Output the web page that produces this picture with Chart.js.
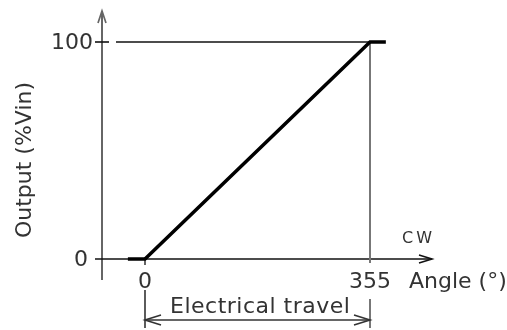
<!DOCTYPE html>
<html>
<head>
<meta charset="utf-8">
<script src="https://cdn.jsdelivr.net/npm/chart.js@4"></script>
<style>
  html, body { margin: 0; padding: 0; background: #fff; }
  #wrap { width: 507px; height: 330px; }
</style>
</head>
<body>
<div id="wrap"><canvas id="grafico" width="507" height="330"></canvas></div>
<script>
// dados da curva (angulo em graus, saida em %Vin)
const angle = [-27, 0, 355, 380];
const output = [0, 0, 100, 100];
const xTicks = [0, 355];
const yTicks = [0, 100];
const travelStart = 0;
const travelEnd = 355;

const FONT = '"DejaVu Sans", sans-serif';
const TXT = '#333';

function arrow(ctx, x, y, dx, dy, len, half) {
  // seta aberta (duas linhas)
  const nx = -dy, ny = dx;
  ctx.beginPath();
  ctx.moveTo(x - dx * len + nx * half, y - dy * len + ny * half);
  ctx.lineTo(x, y);
  ctx.lineTo(x - dx * len - nx * half, y - dy * len - ny * half);
  ctx.stroke();
}

const desenho = {
  id: 'desenho',
  beforeDatasetsDraw(chart) {
    const ctx = chart.ctx;
    const xs = chart.scales.x, ys = chart.scales.y;
    const x0 = xs.getPixelForValue(xTicks[0]);
    const x1 = xs.getPixelForValue(xTicks[1]);
    const y0 = ys.getPixelForValue(yTicks[0]);
    const y1 = ys.getPixelForValue(yTicks[1]);
    const ax = x0 - 43; // eixo vertical

    ctx.save();
    ctx.lineCap = 'butt';

    // eixo y
    ctx.strokeStyle = '#666';
    ctx.lineWidth = 2;
    ctx.beginPath(); ctx.moveTo(ax, 280); ctx.lineTo(ax, 11); ctx.stroke();
    ctx.lineWidth = 1.7;
    arrow(ctx, ax, 11, 0, -1, 12, 4);

    // eixo x
    ctx.strokeStyle = '#111';
    ctx.lineWidth = 1.6;
    ctx.beginPath(); ctx.moveTo(ax - 7, y0); ctx.lineTo(432, y0); ctx.stroke();
    arrow(ctx, 432, y0, 1, 0, 13, 4);

    // marcas do eixo y
    ctx.beginPath(); ctx.moveTo(ax - 7, y1); ctx.lineTo(ax + 7, y1); ctx.stroke();
    // linha de referencia 100%
    ctx.lineWidth = 1.4;
    ctx.beginPath(); ctx.moveTo(ax + 14, y1); ctx.lineTo(x1, y1); ctx.stroke();

    // marca no 0 do eixo x
    ctx.strokeStyle = '#222';
    ctx.lineWidth = 1.4;
    ctx.beginPath(); ctx.moveTo(x0, y0 - 2); ctx.lineTo(x0, y0 + 6); ctx.stroke();

    // linha vertical em 355
    ctx.strokeStyle = '#777';
    ctx.lineWidth = 2;
    ctx.beginPath(); ctx.moveTo(x1, y1); ctx.lineTo(x1, y0 + 4); ctx.stroke();
    ctx.beginPath(); ctx.moveTo(x1, y0 + 40); ctx.lineTo(x1, y0 + 69); ctx.stroke();

    // cota "Electrical travel"
    const ts = xs.getPixelForValue(travelStart), te = xs.getPixelForValue(travelEnd);
    ctx.strokeStyle = '#333';
    ctx.lineWidth = 1.6;
    ctx.beginPath(); ctx.moveTo(ts, y0 + 31); ctx.lineTo(ts, y0 + 69); ctx.stroke();
    const yc = y0 + 61;
    ctx.beginPath(); ctx.moveTo(ts, yc); ctx.lineTo(te, yc); ctx.stroke();
    arrow(ctx, ts, yc, -1, 0, 16, 5);
    arrow(ctx, te, yc, 1, 0, 16, 5);

    // textos
    ctx.fillStyle = TXT;
    ctx.font = '22px ' + FONT;
    ctx.textBaseline = 'middle';
    ctx.textAlign = 'right';
    ctx.fillText(String(yTicks[0]), ax - 14, y0 + 1);
    ctx.fillText(String(yTicks[1]), ax - 9, y1 + 1);
    ctx.textAlign = 'center';
    ctx.fillText(String(xTicks[0]), x0, y0 + 23);
    ctx.fillText(String(xTicks[1]), x1, y0 + 23);
    ctx.textAlign = 'left';
    ctx.fillText('Angle (°)', 409, y0 + 23);
    ctx.letterSpacing = '0.5px';
    ctx.textBaseline = 'alphabetic';
    ctx.fillText('Electrical travel', ts + 25, yc - 7);

    ctx.letterSpacing = '3px';
    ctx.font = '16px ' + FONT;
    ctx.textBaseline = 'middle';
    ctx.fillText('CW', 402, y0 - 20);

    // titulo do eixo y
    ctx.letterSpacing = '0px';
    ctx.font = '22px ' + FONT;
    ctx.translate(25, 160);
    ctx.rotate(-Math.PI / 2);
    ctx.textAlign = 'center';
    ctx.fillText('Output (%Vin)', 0, 0);
    ctx.restore();
  }
};

new Chart(document.getElementById('grafico').getContext('2d'), {
  type: 'line',
  data: {
    datasets: [{
      label: 'Output',
      data: angle.map((a, i) => ({ x: a, y: output[i] })),
      borderColor: '#000',
      borderWidth: 3.5,
      pointRadius: 0,
      tension: 0,
      fill: false
    }]
  },
  options: {
    responsive: false,
    animation: false,
    events: [],
    layout: { padding: 0 },
    plugins: { legend: { display: false }, tooltip: { enabled: false } },
    scales: {
      // limites escolhidos para: 0 -> x=145, 355 -> x=370, 0% -> y=259, 100% -> y=42
      x: { type: 'linear', display: false, min: -145 * 355 / 225, max: 362 * 355 / 225 },
      y: { type: 'linear', display: false, min: -71 / 2.17, max: 259 / 2.17 }
    }
  },
  plugins: [desenho]
});
</script>
</body>
</html>
